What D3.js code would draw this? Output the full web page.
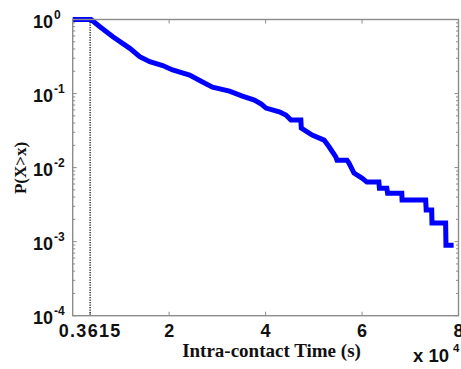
<!DOCTYPE html>
<html><head><meta charset="utf-8">
<script src="https://cdn.jsdelivr.net/npm/d3@7"></script>
<style>
body{margin:0;background:#fff;}
svg{display:block;}
</style></head>
<body>
<svg id="c" width="461" height="369"></svg>
<script>
// Data (x in seconds, P(X>x))
const xTime = [0, 3800, 5640, 8330, 11840, 13900, 15970, 18660, 20720, 24240, 26920, 28990, 32500, 35190, 37670, 39110, 40080, 42830, 44210, 45250, 47310, 47400, 49650, 52130, 53160, 54550, 54810, 56880, 57290, 58330, 59980, 61010, 63490, 63600, 65140, 65300, 68240, 68300, 73200, 73300, 74440, 74500, 77330, 77400, 78990];
const pCCDF = [1, 1, 0.799, 0.586, 0.408, 0.314, 0.269, 0.239, 0.208, 0.178, 0.143, 0.122, 0.108, 0.0925, 0.0817, 0.0721, 0.0637, 0.0568, 0.0512, 0.0438, 0.0438, 0.0342, 0.0275, 0.0235, 0.0191, 0.0140, 0.0126, 0.0126, 0.0115, 0.00843, 0.00721, 0.00637, 0.00637, 0.00528, 0.00528, 0.00452, 0.00452, 0.00364, 0.00364, 0.00267, 0.00267, 0.00178, 0.00178, 0.000897, 0.000897];
const xTickValues = [3615, 20000, 40000, 60000, 80000];
const xTickLabels = ["0.3615", "2", "4", "6", "8"];
const yTickExponents = [0, -1, -2, -3, -4];
const markerX = 3615;

const svg = d3.select("#c");
const L = 72.7, R = 458.5, T = 19.5, B = 315.7;
const x = d3.scaleLinear().domain([0, 80000]).range([L, R]);
const y = d3.scaleLog().domain([1e-4, 1]).range([B, T]);
const axisColor = "#8c8c8c";

// minor ticks on y (log)
const minor = [];
for (let e = -4; e < 0; e++) for (let k = 2; k <= 9; k++) minor.push(k * Math.pow(10, e));
const g = svg.append("g");
minor.forEach(v => {
  g.append("line").attr("x1", L).attr("x2", L + 2.5).attr("y1", y(v)).attr("y2", y(v)).attr("stroke", axisColor).attr("stroke-width", 1);
  g.append("line").attr("x1", R).attr("x2", R - 2.5).attr("y1", y(v)).attr("y2", y(v)).attr("stroke", axisColor).attr("stroke-width", 1);
});
yTickExponents.forEach(e => {
  const v = Math.pow(10, e);
  g.append("line").attr("x1", L).attr("x2", L + 4).attr("y1", y(v)).attr("y2", y(v)).attr("stroke", axisColor);
  g.append("line").attr("x1", R).attr("x2", R - 4).attr("y1", y(v)).attr("y2", y(v)).attr("stroke", axisColor);
});
xTickValues.forEach(v => {
  g.append("line").attr("x1", x(v)).attr("x2", x(v)).attr("y1", B).attr("y2", B - 4).attr("stroke", axisColor);
  g.append("line").attr("x1", x(v)).attr("x2", x(v)).attr("y1", T).attr("y2", T + 4).attr("stroke", axisColor);
});

// dotted marker line
svg.append("line").attr("x1", x(markerX)).attr("x2", x(markerX))
  .attr("y1", T).attr("y2", B).attr("stroke", "#222").attr("stroke-width", 1.4)
  .attr("stroke-dasharray", "1.3,1.2");

// curve
const pts = xTime.map((t, i) => [t, pCCDF[i]]);
svg.append("path").datum(pts)
  .attr("d", d3.line().x(d => x(d[0])).y(d => y(d[1])))
  .attr("fill", "none").attr("stroke", "#0000ff").attr("stroke-width", 5)
  .attr("stroke-linejoin", "miter");

// box
svg.append("rect").attr("x", L).attr("y", T).attr("width", R - L).attr("height", B - T)
  .attr("fill", "none").attr("stroke", axisColor).attr("stroke-width", 1.4);

// y tick labels
yTickExponents.forEach(e => {
  svg.append("text").attr("x", 53).attr("y", y(Math.pow(10, e)) + 8)
    .attr("text-anchor", "end").attr("font-family", "Liberation Sans, Arial, sans-serif")
    .attr("font-weight", "bold").attr("font-size", 18).attr("fill", "#111").text("10");
  svg.append("text").attr("x", 54).attr("y", y(Math.pow(10, e)) - 1)
    .attr("font-family", "Liberation Sans, Arial, sans-serif")
    .attr("font-weight", "bold").attr("font-size", 12).attr("fill", "#111").text(String(e));
});

// x tick labels
xTickValues.forEach((v, i) => {
  svg.append("text").attr("x", x(v)).attr("y", 336.5)
    .attr("text-anchor", "middle").attr("font-family", "Liberation Sans, Arial, sans-serif")
    .attr("font-weight", "bold").attr("font-size", 18).attr("fill", "#111")
    .attr("letter-spacing", i === 0 ? 1.3 : 0).text(xTickLabels[i]);
});

// x axis label
svg.append("text").attr("x", 271.5).attr("y", 356.5).attr("text-anchor", "middle")
  .attr("font-family", "Liberation Serif, Times New Roman, serif").attr("font-weight", "bold")
  .attr("font-size", 19).attr("fill", "#111").text("Intra-contact Time (s)");

// multiplier
svg.append("text").attr("x", 413).attr("y", 362).attr("font-family", "Liberation Sans, Arial, sans-serif")
  .attr("font-weight", "bold").attr("font-size", 18.5).attr("fill", "#111").text("x 10");
svg.append("text").attr("x", 453).attr("y", 352).attr("font-family", "Liberation Sans, Arial, sans-serif")
  .attr("font-weight", "bold").attr("font-size", 11.5).attr("fill", "#111").text("4");

// y label
svg.append("text").attr("transform", "translate(26,168) rotate(-90)").attr("text-anchor", "middle")
  .attr("font-family", "Liberation Serif, Times New Roman, serif").attr("font-weight", "bold")
  .attr("font-size", 17).attr("fill", "#111").text("P(X>x)");
</script>
</body></html>
